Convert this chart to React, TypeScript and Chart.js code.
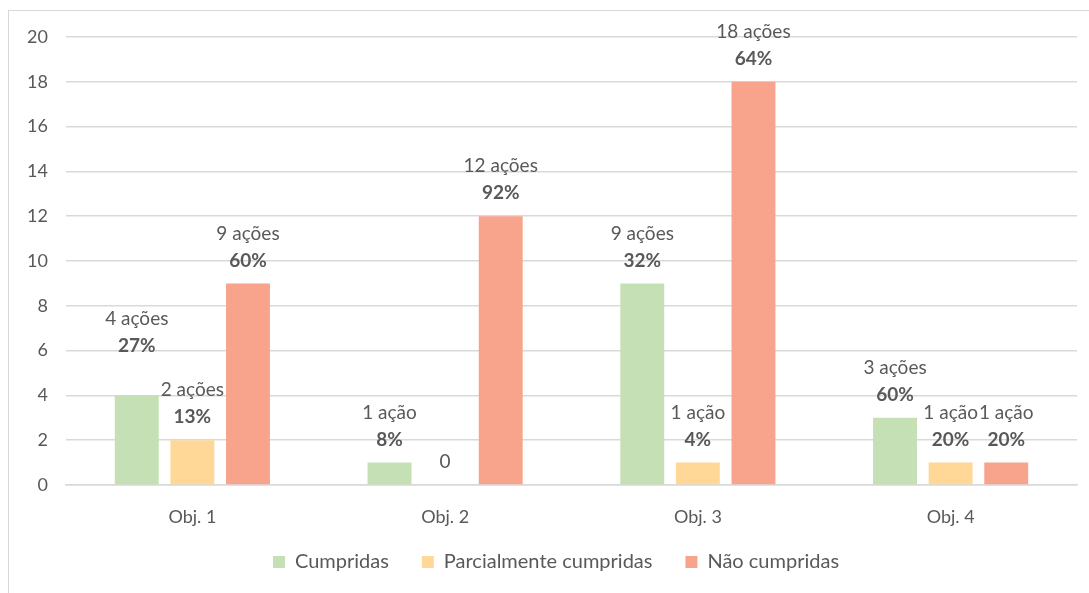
import React, { useEffect, useRef } from "react";
import { Chart, registerables } from "chart.js";

Chart.register(...registerables);

const categories = ["Obj. 1", "Obj. 2", "Obj. 3", "Obj. 4"];
const seriesNames = ["Cumpridas", "Parcialmente cumpridas", "Não cumpridas"];
const cumpridas = [4, 1, 9, 3];
const parcialmente = [2, 0, 1, 1];
const naoCumpridas = [9, 12, 18, 1];
const percentLabels = [
  ["27%", "8%", "32%", "60%"],
  ["13%", "", "4%", "20%"],
  ["60%", "92%", "64%", "20%"],
];
const yTicks = [0, 2, 4, 6, 8, 10, 12, 14, 16, 18, 20];

const colors = ["#C5E0B4", "#FFD898", "#F8A48D"];
const FONT = "Lato, 'Open Sans', sans-serif";
const TEXT = "#595959";
const FS_AXIS = 18;
const FS_LABEL = 19;
const FS_LEGEND = 20;

const labelPlugin = {
  id: "barLabels",
  afterDatasetsDraw(chart: any) {
    const ctx = chart.ctx;
    // manual nudge of a label (dataset-index, category-index) -> px
    const shift: Record<string, number> = { "0-0": -27 };
    ctx.save();
    ctx.textAlign = "center";
    ctx.textBaseline = "middle";
    ctx.fillStyle = TEXT;
    chart.data.datasets.forEach((ds: any, di: number) => {
      const meta = chart.getDatasetMeta(di);
      meta.data.forEach((el: any, i: number) => {
        const v = ds.data[i];
        const off = shift[`${di}-${i}`] || 0;
        const x = el.x;
        const top = el.y + off;
        if (v === 0) {
          ctx.font = `normal ${FS_LABEL}px ${FONT}`;
          ctx.fillText("0", x, top - 23);
          return;
        }
        ctx.font = `normal ${FS_LABEL}px ${FONT}`;
        ctx.fillText(`${v} ${v === 1 ? "ação" : "ações"}`, x, top - 50);
        ctx.font = `bold ${FS_LABEL}px ${FONT}`;
        ctx.fillText(percentLabels[di][i], x, top - 23);
      });
    });
    ctx.restore();
  },
};

const layoutTweak = {
  id: "layoutTweak",
  afterLayout(chart: any) {
    // let x tick labels extend below the axis box (avoid clipping)
    chart.scales.x.bottom += 40;
    // nudge legend slightly right
    if (chart.legend) {
      chart.legend.left += 13;
      chart.legend.right += 13;
    }
  },
};

export default function App() {
  const ref = useRef<HTMLCanvasElement>(null);
  useEffect(() => {
    if (!ref.current) return;
    const chart = new Chart(ref.current, {
      type: "bar",
      data: {
        labels: categories,
        datasets: [cumpridas, parcialmente, naoCumpridas].map((d, i) => ({
          label: seriesNames[i],
          data: d,
          backgroundColor: colors[i],
          borderWidth: 0,
          barPercentage: 0.79,
          categoryPercentage: 0.66,
        })),
      },
      options: {
        animation: false,
        responsive: false,
        maintainAspectRatio: false,
        layout: { padding: { top: 26, right: 12, bottom: 11, left: 0 } },
        plugins: {
          legend: {
            position: "bottom",
            labels: {
              boxWidth: 12,
              boxHeight: 12,
              padding: 33,
              color: TEXT,
              font: { family: FONT, size: FS_LEGEND },
            },
          },
          tooltip: { enabled: false },
        },
        scales: {
          x: {
            grid: { display: false, drawTicks: false },
            border: { display: true, color: "#D9D9D9", width: 1.5 },
            ticks: { color: TEXT, font: { family: FONT, size: FS_AXIS }, padding: 21 },
            afterFit: (s: any) => {
              s.height = 34;
            },
          },
          y: {
            min: 0,
            max: 20,
            afterBuildTicks: (s: any) => {
              s.ticks = yTicks.map((v) => ({ value: v }));
            },
            grid: {
              color: "#D9D9D9",
              lineWidth: 1.5,
              drawTicks: true,
              tickLength: 18,
              tickColor: "rgba(0,0,0,0)",
            },
            border: { display: false },
            ticks: { color: TEXT, font: { family: FONT, size: FS_AXIS }, padding: 0 },
            afterFit: (s: any) => {
              s.width = 57;
            },
          },
        },
      },
      plugins: [labelPlugin, layoutTweak],
    });
    return () => chart.destroy();
  }, []);
  return (
    <div
      style={{
        position: "absolute",
        left: 8,
        top: 10,
        width: 1081,
        height: 583,
        borderLeft: "1px solid #D9D9D9",
        borderTop: "1px solid #D9D9D9",
        boxSizing: "border-box",
        background: "#fff",
      }}
    >
      <canvas ref={ref} width={1080} height={582} style={{ display: "block" }} />
    </div>
  );
}
